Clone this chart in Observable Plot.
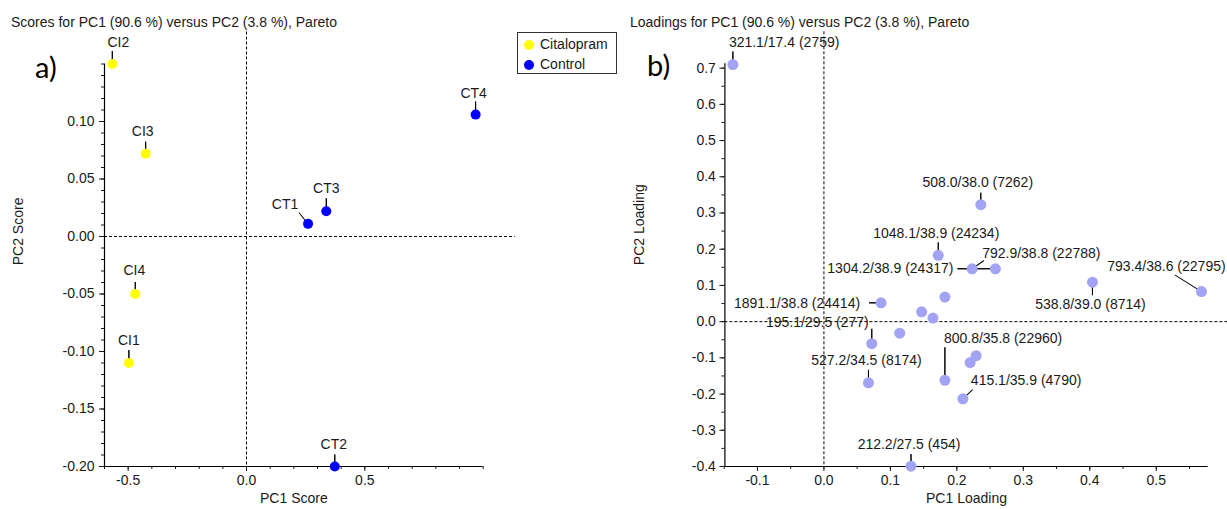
<!DOCTYPE html>
<html><head><meta charset="utf-8">
<script src="https://cdn.jsdelivr.net/npm/d3@7"></script>
<script src="https://cdn.jsdelivr.net/npm/@observablehq/plot@0.6"></script>
<style>
body{margin:0;background:#fff;}
#page{position:relative;width:1227px;height:509px;overflow:hidden;font-family:"Liberation Sans",Arial,sans-serif;color:#1a1a1a;background:#fff;}
.title{position:absolute;top:14px;font-size:14px;line-height:17px;white-space:nowrap;}
.panel{position:absolute;top:30px;}
.tag{position:absolute;font-family:Lato,"Liberation Sans",sans-serif;font-size:29px;line-height:29px;color:#000;}
#legend{position:absolute;left:517px;top:32px;width:98px;height:40px;border:1px solid #333;font-size:14px;background:#fff;}
#legend .item{position:absolute;left:6px;height:16px;line-height:16px;white-space:nowrap;}
#legend .sw{display:inline-block;width:10px;height:10px;border-radius:50%;vertical-align:-1px;margin-right:6px;}
</style>
</head><body>
<div id="page">
  <div class="title" style="left:11px">Scores for PC1 (90.6 %) versus PC2 (3.8 %), Pareto</div>
  <div class="title" style="left:630px">Loadings for PC1 (90.6 %) versus PC2 (3.8 %), Pareto</div>
  <div id="left" class="panel" style="left:0px"></div>
  <div id="right" class="panel" style="left:615px"></div>
  <div class="tag" style="left:35px;top:52px">a)</div>
  <div class="tag" style="left:647px;top:50px">b)</div>
  <div id="legend"></div>
</div>
<script>
// ---------- Scores (panel a) ----------
const scoreNames  = ["CI1", "CI2", "CI3", "CI4", "CT1", "CT2", "CT3", "CT4"];
const scoreGroups = ["Citalopram", "Citalopram", "Citalopram", "Citalopram", "Control", "Control", "Control", "Control"];
const pc1Score    = [-0.497, -0.567, -0.426, -0.470, 0.260, 0.373, 0.337, 0.968];
const pc2Score    = [-0.110, 0.150, 0.072, -0.050, 0.011, -0.200, 0.022, 0.106];
const groupNames  = ["Citalopram", "Control"];
const groupColors = ["#ffff00", "#0000ff"];

// ---------- Loadings (panel b) ----------
const loadingNames = [
  "321.1/17.4 (2759)", "508.0/38.0 (7262)", "1048.1/38.9 (24234)", "792.9/38.8 (22788)",
  "1304.2/38.9 (24317)", "793.4/38.6 (22795)", "538.8/39.0 (8714)", "1891.1/38.8 (24414)",
  "", "", "", "",
  "195.1/29.5 (277)", "527.2/34.5 (8174)", "800.8/35.8 (22960)", "", "",
  "415.1/35.9 (4790)", "212.2/27.5 (454)"
];
const pc1Loading = [-0.137, 0.236, 0.172, 0.223, 0.258, 0.568, 0.404, 0.086, 0.182, 0.147, 0.164, 0.114, 0.072, 0.067, 0.182, 0.220, 0.229, 0.209, 0.131];
const pc2Loading = [0.710, 0.323, 0.183, 0.146, 0.146, 0.083, 0.109, 0.052, 0.068, 0.027, 0.010, -0.032, -0.061, -0.169, -0.162, -0.113, -0.094, -0.213, -0.399];

// ---------- Tick labels ----------
const scoreXTicks   = [-0.5, 0, 0.5];
const scoreYTicks   = [-0.20, -0.15, -0.10, -0.05, 0.00, 0.05, 0.10];
const loadingXTicks = [-0.1, 0, 0.1, 0.2, 0.3, 0.4, 0.5];
const loadingYTicks = [-0.4, -0.3, -0.2, -0.1, 0, 0.1, 0.2, 0.3, 0.4, 0.5, 0.6, 0.7];

// ---------- Label layout (pixel offsets, leader length & angle) ----------
const scoreLabelLayout = [
  {dx: 0, dy: -22, anchor: "middle", len: 13, angle: 0},
  {dx: 6, dy: -21, anchor: "middle", len: 13, angle: 0},
  {dx: -3, dy: -22, anchor: "middle", len: 12, angle: 0},
  {dx: -1, dy: -23, anchor: "middle", len: 12, angle: 0},
  {dx: -23, dy: -19, anchor: "middle", len: 14, angle: -39},
  {dx: -1, dy: -22, anchor: "middle", len: 12, angle: 0},
  {dx: 0, dy: -23, anchor: "middle", len: 13, angle: 0},
  {dx: -2, dy: -21, anchor: "middle", len: 13, angle: 0}
];
const loadingLabelLayout = [
  {dx: -4, dy: -22, anchor: "start", len: 13, angle: 0},
  {dx: -3, dy: -22, anchor: "middle", len: 12, angle: 0},
  {dx: -2, dy: -22, anchor: "middle", len: 13, angle: 0},
  {dx: 10, dy: -15, anchor: "start", len: 14, angle: 55},
  {dx: -42, dy: 0, anchor: "end", len: 38, angle: -90},
  {dx: -35, dy: -25, anchor: "middle", len: 31, angle: -58},
  {dx: -2, dy: 22, anchor: "middle", len: 13, angle: 180},
  {dx: -21, dy: 1, anchor: "end", len: 12, angle: -90},
  null, null, null, null,
  {dx: -3, dy: -21, anchor: "end", len: 15, angle: 0},
  {dx: -2, dy: -22, anchor: "middle", len: 13, angle: 0},
  {dx: -1, dy: -42, anchor: "start", len: 33, angle: 0},
  null, null,
  {dx: 8, dy: -18, anchor: "start", len: 13, angle: 47},
  {dx: -2, dy: -22, anchor: "middle", len: 12, angle: 0}
];

const scores = scoreNames.map((name, i) => ({name, group: scoreGroups[i], pc1: pc1Score[i], pc2: pc2Score[i]}));
const loadings = loadingNames.map((name, i) => ({name, pc1: pc1Loading[i], pc2: pc2Loading[i]}));

const TXT = "#1a1a1a";
const baseStyle = {fontFamily: '"Liberation Sans", Arial, sans-serif', fontSize: "14px", color: TXT, background: "transparent", overflow: "visible", maxWidth: "none"};
const range = (a, b, s) => d3.range(Math.round(a / s), Math.round(b / s) + 1).map(k => +(k * s).toFixed(4));

function labelMarks(rows, layout) {
  const marks = [];
  rows.forEach((d, i) => {
    const L = layout[i];
    if (!L) return;
    marks.push(Plot.vector([d], {x: "pc1", y: "pc2", length: L.len, rotate: L.angle, anchor: "start", shape: "spike", r: 0, stroke: "#000", strokeWidth: 1, fill: "none"}));
  });
  return marks;
}
function textMarks(rows, layout) {
  const marks = [];
  rows.forEach((d, i) => {
    const L = layout[i];
    if (!L) return;
    marks.push(Plot.text([d], {x: "pc1", y: "pc2", text: "name", dx: L.dx, dy: L.dy, textAnchor: L.anchor, fontSize: 14, fill: TXT}));
  });
  return marks;
}

// ---------- Panel a ----------
const sx = [-0.6, 1.0], sy = [-0.2, 0.15];
const left = Plot.plot({
  width: 615, height: 479,
  marginLeft: 104, marginRight: 132.3, marginTop: 33.5, marginBottom: 43,
  x: {domain: sx}, y: {domain: sy},
  color: {domain: groupNames, range: groupColors},
  style: baseStyle,
  marks: [
    Plot.ruleX([0], {stroke: "#000", strokeDasharray: "3,2", insetTop: -32}),
    Plot.ruleY([0], {stroke: "#000", strokeDasharray: "3,2", insetRight: -32}),
    Plot.ruleX([sx[0]], {stroke: "#000", strokeWidth: 1.2}),
    Plot.ruleY([sy[0]], {stroke: "#000", strokeWidth: 1.2}),
    Plot.axisY({ticks: range(-0.2, 0.15, 0.01), tickSize: 3, tickFormat: () => "", label: null}),
    Plot.axisY({ticks: scoreYTicks, tickSize: 5, tickPadding: 5, tickFormat: d => d.toFixed(2), label: null, fill: TXT}),
    Plot.axisX({ticks: range(-0.6, 1.0, 0.1), tickSize: 3, tickFormat: () => "", label: null}),
    Plot.axisX({ticks: scoreXTicks, tickSize: 5, tickPadding: 4, tickFormat: d => d.toFixed(1), label: null, fill: TXT}),
    Plot.text(["PC1 Score"], {frameAnchor: "bottom", dy: 36, fontSize: 14, fill: TXT}),
    Plot.text(["PC2 Score"], {frameAnchor: "left", dx: -86, rotate: -90, fontSize: 14, fill: TXT}),
    ...labelMarks(scores, scoreLabelLayout),
    Plot.dot(scores, {x: "pc1", y: "pc2", fill: "group", r: 5}),
    ...textMarks(scores, scoreLabelLayout)
  ]
});
document.getElementById("left").append(left);

// ---------- Panel b ----------
const lx = [-0.149, 0.578], ly = [-0.4, 0.712];
const right = Plot.plot({
  width: 612, height: 479,
  marginLeft: 109.4, marginRight: 19.4, marginTop: 33.3, marginBottom: 43,
  x: {domain: lx}, y: {domain: ly},
  style: baseStyle,
  marks: [
    Plot.ruleX([0], {stroke: "#000", strokeDasharray: "3,2", insetTop: -32}),
    Plot.ruleY([0], {stroke: "#000", strokeDasharray: "3,2", insetRight: -20}),
    Plot.ruleX([lx[0]], {stroke: "#000", strokeWidth: 1.2}),
    Plot.ruleY([ly[0]], {stroke: "#000", strokeWidth: 1.2}),
    Plot.axisY({ticks: range(-0.4, 0.7, 0.05), tickSize: 3, tickFormat: () => "", label: null}),
    Plot.axisY({ticks: loadingYTicks, tickSize: 5, tickPadding: 4, tickFormat: d => d.toFixed(1), label: null, fill: TXT}),
    Plot.axisX({ticks: range(-0.15, 0.55, 0.05), tickSize: 3, tickFormat: () => "", label: null}),
    Plot.axisX({ticks: loadingXTicks, tickSize: 5, tickPadding: 4, tickFormat: d => d.toFixed(1), label: null, fill: TXT}),
    Plot.text(["PC1 Loading"], {frameAnchor: "bottom", dy: 36, fontSize: 14, fill: TXT}),
    Plot.text(["PC2 Loading"], {frameAnchor: "left", dx: -85, rotate: -90, fontSize: 14, fill: TXT}),
    ...labelMarks(loadings, loadingLabelLayout),
    Plot.dot(loadings, {x: "pc1", y: "pc2", fill: "#a3a3f3", r: 5.5}),
    ...textMarks(loadings, loadingLabelLayout)
  ]
});
document.getElementById("right").append(right);

// ---------- Legend ----------
const legend = document.getElementById("legend");
groupNames.forEach((g, i) => {
  const item = document.createElement("div");
  item.className = "item";
  item.style.top = (3 + i * 19.5) + "px";
  const sw = document.createElement("span");
  sw.className = "sw";
  sw.style.background = groupColors[i];
  item.append(sw, document.createTextNode(g));
  legend.append(item);
});
</script>
</body></html>
